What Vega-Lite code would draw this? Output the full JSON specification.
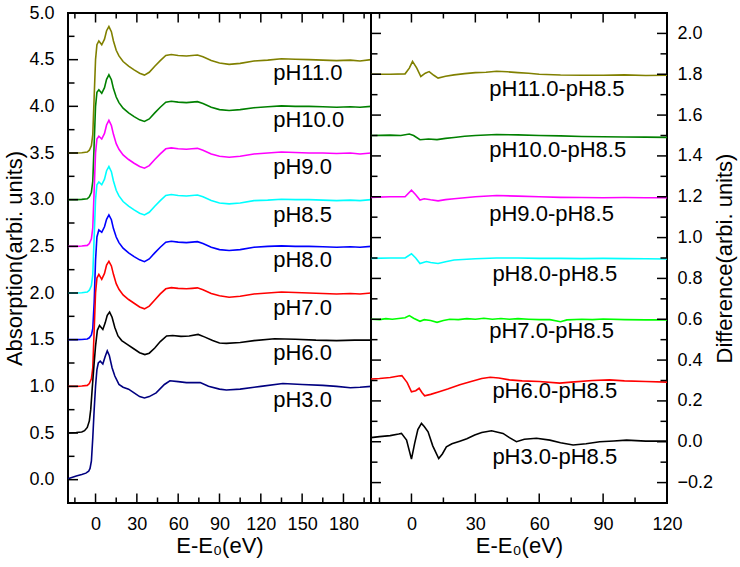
{
  "$schema": "https://vega.github.io/schema/vega-lite/v6.json",
  "padding": {"left": 2, "top": 3, "right": 3, "bottom": 5},
  "spacing": 0,
  "bounds": "flush",
  "datasets": {
    "spec": [
      {"s":"pH11.0","x":-20,"y":3.5},{"s":"pH11.0","x":-14,"y":3.5},{"s":"pH11.0","x":-10,"y":3.503},{"s":"pH11.0","x":-6,"y":3.51},{"s":"pH11.0","x":-4.5,"y":3.53},{"s":"pH11.0","x":-3,"y":3.58},{"s":"pH11.0","x":-2,"y":3.7},{"s":"pH11.0","x":-1,"y":4.1},{"s":"pH11.0","x":0,"y":4.5},{"s":"pH11.0","x":1,"y":4.66},{"s":"pH11.0","x":2.4,"y":4.7},{"s":"pH11.0","x":4.5,"y":4.66},{"s":"pH11.0","x":6.5,"y":4.72},{"s":"pH11.0","x":8,"y":4.81},{"s":"pH11.0","x":9.7,"y":4.855},{"s":"pH11.0","x":11.5,"y":4.8},{"s":"pH11.0","x":13,"y":4.7},{"s":"pH11.0","x":15,"y":4.6},{"s":"pH11.0","x":17,"y":4.54},{"s":"pH11.0","x":20,"y":4.48},{"s":"pH11.0","x":24,"y":4.43},{"s":"pH11.0","x":28,"y":4.39},{"s":"pH11.0","x":32,"y":4.355},{"s":"pH11.0","x":35.5,"y":4.335},{"s":"pH11.0","x":39,"y":4.365},{"s":"pH11.0","x":43,"y":4.43},{"s":"pH11.0","x":47,"y":4.49},{"s":"pH11.0","x":51,"y":4.545},{"s":"pH11.0","x":55,"y":4.555},{"s":"pH11.0","x":60,"y":4.545},{"s":"pH11.0","x":66,"y":4.54},{"s":"pH11.0","x":70,"y":4.545},{"s":"pH11.0","x":74,"y":4.55},{"s":"pH11.0","x":78,"y":4.53},{"s":"pH11.0","x":84,"y":4.49},{"s":"pH11.0","x":90,"y":4.465},{"s":"pH11.0","x":97,"y":4.45},{"s":"pH11.0","x":105,"y":4.46},{"s":"pH11.0","x":115,"y":4.485},{"s":"pH11.0","x":125,"y":4.495},{"s":"pH11.0","x":135,"y":4.51},{"s":"pH11.0","x":145,"y":4.505},{"s":"pH11.0","x":155,"y":4.5},{"s":"pH11.0","x":165,"y":4.495},{"s":"pH11.0","x":175,"y":4.49},{"s":"pH11.0","x":185,"y":4.495},{"s":"pH11.0","x":192,"y":4.485},{"s":"pH11.0","x":200,"y":4.5},

      {"s":"pH10.0","x":-20,"y":3.0},{"s":"pH10.0","x":-14,"y":3.0},{"s":"pH10.0","x":-10,"y":3.003},{"s":"pH10.0","x":-6,"y":3.01},{"s":"pH10.0","x":-4.5,"y":3.03},{"s":"pH10.0","x":-3,"y":3.08},{"s":"pH10.0","x":-2,"y":3.2},{"s":"pH10.0","x":-1,"y":3.6},{"s":"pH10.0","x":0,"y":4.0},{"s":"pH10.0","x":1,"y":4.15},{"s":"pH10.0","x":2.4,"y":4.177},{"s":"pH10.0","x":4.5,"y":4.14},{"s":"pH10.0","x":6.5,"y":4.2},{"s":"pH10.0","x":8,"y":4.29},{"s":"pH10.0","x":9.7,"y":4.338},{"s":"pH10.0","x":11.5,"y":4.285},{"s":"pH10.0","x":13,"y":4.19},{"s":"pH10.0","x":15,"y":4.1},{"s":"pH10.0","x":17,"y":4.04},{"s":"pH10.0","x":20,"y":3.98},{"s":"pH10.0","x":24,"y":3.93},{"s":"pH10.0","x":28,"y":3.89},{"s":"pH10.0","x":32,"y":3.855},{"s":"pH10.0","x":35.5,"y":3.838},{"s":"pH10.0","x":39,"y":3.865},{"s":"pH10.0","x":43,"y":3.93},{"s":"pH10.0","x":47,"y":3.99},{"s":"pH10.0","x":51,"y":4.045},{"s":"pH10.0","x":55,"y":4.055},{"s":"pH10.0","x":60,"y":4.045},{"s":"pH10.0","x":66,"y":4.04},{"s":"pH10.0","x":70,"y":4.045},{"s":"pH10.0","x":74,"y":4.05},{"s":"pH10.0","x":78,"y":4.03},{"s":"pH10.0","x":84,"y":3.99},{"s":"pH10.0","x":90,"y":3.965},{"s":"pH10.0","x":97,"y":3.955},{"s":"pH10.0","x":105,"y":3.965},{"s":"pH10.0","x":115,"y":3.985},{"s":"pH10.0","x":125,"y":3.995},{"s":"pH10.0","x":135,"y":4.005},{"s":"pH10.0","x":145,"y":4.0},{"s":"pH10.0","x":155,"y":4.0},{"s":"pH10.0","x":165,"y":3.995},{"s":"pH10.0","x":175,"y":3.99},{"s":"pH10.0","x":185,"y":3.995},{"s":"pH10.0","x":192,"y":3.99},{"s":"pH10.0","x":200,"y":4.0},

      {"s":"pH9.0","x":-20,"y":2.5},{"s":"pH9.0","x":-14,"y":2.5},{"s":"pH9.0","x":-10,"y":2.503},{"s":"pH9.0","x":-6,"y":2.51},{"s":"pH9.0","x":-4.5,"y":2.53},{"s":"pH9.0","x":-3,"y":2.58},{"s":"pH9.0","x":-2,"y":2.7},{"s":"pH9.0","x":-1,"y":3.1},{"s":"pH9.0","x":0,"y":3.5},{"s":"pH9.0","x":1,"y":3.65},{"s":"pH9.0","x":2.4,"y":3.68},{"s":"pH9.0","x":4.5,"y":3.65},{"s":"pH9.0","x":6.5,"y":3.71},{"s":"pH9.0","x":8,"y":3.8},{"s":"pH9.0","x":9.7,"y":3.85},{"s":"pH9.0","x":11.5,"y":3.795},{"s":"pH9.0","x":13,"y":3.7},{"s":"pH9.0","x":15,"y":3.6},{"s":"pH9.0","x":17,"y":3.54},{"s":"pH9.0","x":20,"y":3.48},{"s":"pH9.0","x":24,"y":3.43},{"s":"pH9.0","x":28,"y":3.39},{"s":"pH9.0","x":32,"y":3.355},{"s":"pH9.0","x":35.5,"y":3.337},{"s":"pH9.0","x":39,"y":3.365},{"s":"pH9.0","x":43,"y":3.43},{"s":"pH9.0","x":47,"y":3.49},{"s":"pH9.0","x":51,"y":3.545},{"s":"pH9.0","x":55,"y":3.555},{"s":"pH9.0","x":60,"y":3.545},{"s":"pH9.0","x":66,"y":3.54},{"s":"pH9.0","x":70,"y":3.545},{"s":"pH9.0","x":74,"y":3.55},{"s":"pH9.0","x":78,"y":3.53},{"s":"pH9.0","x":84,"y":3.49},{"s":"pH9.0","x":90,"y":3.465},{"s":"pH9.0","x":97,"y":3.455},{"s":"pH9.0","x":105,"y":3.465},{"s":"pH9.0","x":115,"y":3.49},{"s":"pH9.0","x":125,"y":3.5},{"s":"pH9.0","x":135,"y":3.51},{"s":"pH9.0","x":145,"y":3.505},{"s":"pH9.0","x":155,"y":3.5},{"s":"pH9.0","x":165,"y":3.5},{"s":"pH9.0","x":175,"y":3.495},{"s":"pH9.0","x":185,"y":3.5},{"s":"pH9.0","x":192,"y":3.49},{"s":"pH9.0","x":200,"y":3.5},

      {"s":"pH8.5","x":-20,"y":2.0},{"s":"pH8.5","x":-14,"y":2.0},{"s":"pH8.5","x":-10,"y":2.003},{"s":"pH8.5","x":-6,"y":2.01},{"s":"pH8.5","x":-4.5,"y":2.03},{"s":"pH8.5","x":-3,"y":2.08},{"s":"pH8.5","x":-2,"y":2.2},{"s":"pH8.5","x":-1,"y":2.6},{"s":"pH8.5","x":0,"y":3.0},{"s":"pH8.5","x":1,"y":3.16},{"s":"pH8.5","x":2.4,"y":3.19},{"s":"pH8.5","x":4.5,"y":3.16},{"s":"pH8.5","x":6.5,"y":3.22},{"s":"pH8.5","x":8,"y":3.31},{"s":"pH8.5","x":9.7,"y":3.355},{"s":"pH8.5","x":11.5,"y":3.3},{"s":"pH8.5","x":13,"y":3.2},{"s":"pH8.5","x":15,"y":3.1},{"s":"pH8.5","x":17,"y":3.04},{"s":"pH8.5","x":20,"y":2.98},{"s":"pH8.5","x":24,"y":2.93},{"s":"pH8.5","x":28,"y":2.89},{"s":"pH8.5","x":32,"y":2.855},{"s":"pH8.5","x":35.5,"y":2.836},{"s":"pH8.5","x":39,"y":2.865},{"s":"pH8.5","x":43,"y":2.93},{"s":"pH8.5","x":47,"y":2.99},{"s":"pH8.5","x":51,"y":3.045},{"s":"pH8.5","x":55,"y":3.055},{"s":"pH8.5","x":60,"y":3.045},{"s":"pH8.5","x":66,"y":3.04},{"s":"pH8.5","x":70,"y":3.045},{"s":"pH8.5","x":74,"y":3.05},{"s":"pH8.5","x":78,"y":3.03},{"s":"pH8.5","x":84,"y":2.99},{"s":"pH8.5","x":90,"y":2.965},{"s":"pH8.5","x":97,"y":2.955},{"s":"pH8.5","x":105,"y":2.965},{"s":"pH8.5","x":115,"y":2.99},{"s":"pH8.5","x":125,"y":2.995},{"s":"pH8.5","x":135,"y":3.005},{"s":"pH8.5","x":145,"y":3.0},{"s":"pH8.5","x":155,"y":3.0},{"s":"pH8.5","x":165,"y":2.995},{"s":"pH8.5","x":175,"y":2.99},{"s":"pH8.5","x":185,"y":2.995},{"s":"pH8.5","x":192,"y":2.99},{"s":"pH8.5","x":200,"y":3.0},

      {"s":"pH8.0","x":-20,"y":1.5},{"s":"pH8.0","x":-14,"y":1.5},{"s":"pH8.0","x":-10,"y":1.502},{"s":"pH8.0","x":-6,"y":1.507},{"s":"pH8.0","x":-4.5,"y":1.52},{"s":"pH8.0","x":-3,"y":1.55},{"s":"pH8.0","x":-2,"y":1.62},{"s":"pH8.0","x":-1,"y":1.9},{"s":"pH8.0","x":0,"y":2.35},{"s":"pH8.0","x":1,"y":2.6},{"s":"pH8.0","x":2.4,"y":2.675},{"s":"pH8.0","x":4.5,"y":2.65},{"s":"pH8.0","x":6.5,"y":2.71},{"s":"pH8.0","x":8,"y":2.79},{"s":"pH8.0","x":9.7,"y":2.836},{"s":"pH8.0","x":11.5,"y":2.785},{"s":"pH8.0","x":13,"y":2.69},{"s":"pH8.0","x":15,"y":2.6},{"s":"pH8.0","x":17,"y":2.54},{"s":"pH8.0","x":20,"y":2.48},{"s":"pH8.0","x":24,"y":2.43},{"s":"pH8.0","x":28,"y":2.39},{"s":"pH8.0","x":32,"y":2.355},{"s":"pH8.0","x":35.5,"y":2.336},{"s":"pH8.0","x":39,"y":2.365},{"s":"pH8.0","x":43,"y":2.43},{"s":"pH8.0","x":47,"y":2.49},{"s":"pH8.0","x":51,"y":2.545},{"s":"pH8.0","x":55,"y":2.555},{"s":"pH8.0","x":60,"y":2.545},{"s":"pH8.0","x":66,"y":2.54},{"s":"pH8.0","x":70,"y":2.545},{"s":"pH8.0","x":74,"y":2.55},{"s":"pH8.0","x":78,"y":2.53},{"s":"pH8.0","x":84,"y":2.49},{"s":"pH8.0","x":90,"y":2.465},{"s":"pH8.0","x":97,"y":2.455},{"s":"pH8.0","x":105,"y":2.465},{"s":"pH8.0","x":115,"y":2.49},{"s":"pH8.0","x":125,"y":2.5},{"s":"pH8.0","x":135,"y":2.505},{"s":"pH8.0","x":145,"y":2.5},{"s":"pH8.0","x":155,"y":2.5},{"s":"pH8.0","x":165,"y":2.495},{"s":"pH8.0","x":175,"y":2.49},{"s":"pH8.0","x":185,"y":2.495},{"s":"pH8.0","x":192,"y":2.49},{"s":"pH8.0","x":200,"y":2.5},

      {"s":"pH7.0","x":-20,"y":1.0},{"s":"pH7.0","x":-14,"y":1.0},{"s":"pH7.0","x":-10,"y":1.003},{"s":"pH7.0","x":-6,"y":1.01},{"s":"pH7.0","x":-4.5,"y":1.03},{"s":"pH7.0","x":-3,"y":1.08},{"s":"pH7.0","x":-2,"y":1.2},{"s":"pH7.0","x":-1,"y":1.6},{"s":"pH7.0","x":0,"y":2.0},{"s":"pH7.0","x":1,"y":2.16},{"s":"pH7.0","x":2.4,"y":2.2},{"s":"pH7.0","x":4.5,"y":2.146},{"s":"pH7.0","x":6.5,"y":2.21},{"s":"pH7.0","x":8,"y":2.3},{"s":"pH7.0","x":9.7,"y":2.34},{"s":"pH7.0","x":11.5,"y":2.29},{"s":"pH7.0","x":13,"y":2.2},{"s":"pH7.0","x":15,"y":2.1},{"s":"pH7.0","x":17,"y":2.04},{"s":"pH7.0","x":20,"y":1.98},{"s":"pH7.0","x":24,"y":1.93},{"s":"pH7.0","x":28,"y":1.89},{"s":"pH7.0","x":32,"y":1.85},{"s":"pH7.0","x":35.5,"y":1.83},{"s":"pH7.0","x":39,"y":1.86},{"s":"pH7.0","x":43,"y":1.925},{"s":"pH7.0","x":47,"y":1.99},{"s":"pH7.0","x":51,"y":2.045},{"s":"pH7.0","x":55,"y":2.057},{"s":"pH7.0","x":60,"y":2.05},{"s":"pH7.0","x":66,"y":2.045},{"s":"pH7.0","x":70,"y":2.05},{"s":"pH7.0","x":74,"y":2.055},{"s":"pH7.0","x":78,"y":2.035},{"s":"pH7.0","x":84,"y":1.995},{"s":"pH7.0","x":90,"y":1.97},{"s":"pH7.0","x":97,"y":1.955},{"s":"pH7.0","x":105,"y":1.965},{"s":"pH7.0","x":115,"y":1.99},{"s":"pH7.0","x":125,"y":2.0},{"s":"pH7.0","x":135,"y":2.01},{"s":"pH7.0","x":145,"y":2.005},{"s":"pH7.0","x":155,"y":2.0},{"s":"pH7.0","x":165,"y":1.995},{"s":"pH7.0","x":175,"y":1.99},{"s":"pH7.0","x":185,"y":1.995},{"s":"pH7.0","x":192,"y":1.99},{"s":"pH7.0","x":200,"y":2.0},

      {"s":"pH6.0","x":-20,"y":0.5},{"s":"pH6.0","x":-14,"y":0.505},{"s":"pH6.0","x":-10,"y":0.51},{"s":"pH6.0","x":-8,"y":0.525},{"s":"pH6.0","x":-6,"y":0.56},{"s":"pH6.0","x":-4.5,"y":0.63},{"s":"pH6.0","x":-3.5,"y":0.75},{"s":"pH6.0","x":-2.4,"y":0.98},{"s":"pH6.0","x":-1,"y":1.25},{"s":"pH6.0","x":0,"y":1.43},{"s":"pH6.0","x":1.3,"y":1.6},{"s":"pH6.0","x":2.9,"y":1.652},{"s":"pH6.0","x":5.3,"y":1.61},{"s":"pH6.0","x":7,"y":1.68},{"s":"pH6.0","x":8.5,"y":1.76},{"s":"pH6.0","x":10.2,"y":1.795},{"s":"pH6.0","x":12,"y":1.74},{"s":"pH6.0","x":14,"y":1.63},{"s":"pH6.0","x":16.3,"y":1.54},{"s":"pH6.0","x":19,"y":1.49},{"s":"pH6.0","x":23,"y":1.45},{"s":"pH6.0","x":28,"y":1.4},{"s":"pH6.0","x":32,"y":1.36},{"s":"pH6.0","x":35.8,"y":1.34},{"s":"pH6.0","x":39,"y":1.355},{"s":"pH6.0","x":43,"y":1.41},{"s":"pH6.0","x":47,"y":1.48},{"s":"pH6.0","x":51.6,"y":1.54},{"s":"pH6.0","x":56,"y":1.545},{"s":"pH6.0","x":62,"y":1.535},{"s":"pH6.0","x":68,"y":1.54},{"s":"pH6.0","x":74.5,"y":1.556},{"s":"pH6.0","x":79,"y":1.53},{"s":"pH6.0","x":85,"y":1.49},{"s":"pH6.0","x":90,"y":1.465},{"s":"pH6.0","x":95,"y":1.46},{"s":"pH6.0","x":105,"y":1.47},{"s":"pH6.0","x":115,"y":1.49},{"s":"pH6.0","x":130,"y":1.51},{"s":"pH6.0","x":145,"y":1.505},{"s":"pH6.0","x":160,"y":1.495},{"s":"pH6.0","x":175,"y":1.49},{"s":"pH6.0","x":188,"y":1.495},{"s":"pH6.0","x":200,"y":1.495},

      {"s":"pH3.0","x":-20,"y":0.01},{"s":"pH3.0","x":-14,"y":0.04},{"s":"pH3.0","x":-10,"y":0.055},{"s":"pH3.0","x":-7,"y":0.07},{"s":"pH3.0","x":-5,"y":0.09},{"s":"pH3.0","x":-4,"y":0.12},{"s":"pH3.0","x":-3,"y":0.2},{"s":"pH3.0","x":-2,"y":0.45},{"s":"pH3.0","x":-1,"y":0.75},{"s":"pH3.0","x":0,"y":1.0},{"s":"pH3.0","x":1,"y":1.18},{"s":"pH3.0","x":2,"y":1.25},{"s":"pH3.0","x":3.4,"y":1.27},{"s":"pH3.0","x":5.3,"y":1.24},{"s":"pH3.0","x":7,"y":1.32},{"s":"pH3.0","x":8.5,"y":1.38},{"s":"pH3.0","x":10,"y":1.33},{"s":"pH3.0","x":12,"y":1.2},{"s":"pH3.0","x":14,"y":1.11},{"s":"pH3.0","x":17,"y":1.02},{"s":"pH3.0","x":20,"y":0.99},{"s":"pH3.0","x":24,"y":0.97},{"s":"pH3.0","x":28,"y":0.93},{"s":"pH3.0","x":32,"y":0.89},{"s":"pH3.0","x":35.5,"y":0.875},{"s":"pH3.0","x":39,"y":0.89},{"s":"pH3.0","x":44,"y":0.93},{"s":"pH3.0","x":50,"y":1.02},{"s":"pH3.0","x":54,"y":1.06},{"s":"pH3.0","x":60,"y":1.05},{"s":"pH3.0","x":66,"y":1.04},{"s":"pH3.0","x":72,"y":1.04},{"s":"pH3.0","x":76,"y":1.04},{"s":"pH3.0","x":82,"y":1.0},{"s":"pH3.0","x":90,"y":0.97},{"s":"pH3.0","x":95,"y":0.96},{"s":"pH3.0","x":105,"y":0.97},{"s":"pH3.0","x":120,"y":1.0},{"s":"pH3.0","x":136,"y":1.03},{"s":"pH3.0","x":150,"y":1.02},{"s":"pH3.0","x":165,"y":1.01},{"s":"pH3.0","x":175,"y":1.0},{"s":"pH3.0","x":185,"y":0.985},{"s":"pH3.0","x":192,"y":0.99},{"s":"pH3.0","x":200,"y":1.0}
    ],
    "diff": [
      {"s":"pH11.0-pH8.5","x":-19,"y":1.8},{"s":"pH11.0-pH8.5","x":-10,"y":1.8},{"s":"pH11.0-pH8.5","x":-3,"y":1.802},{"s":"pH11.0-pH8.5","x":-1,"y":1.83},{"s":"pH11.0-pH8.5","x":0.5,"y":1.863},{"s":"pH11.0-pH8.5","x":2.5,"y":1.83},{"s":"pH11.0-pH8.5","x":4.4,"y":1.789},{"s":"pH11.0-pH8.5","x":6.5,"y":1.805},{"s":"pH11.0-pH8.5","x":8.3,"y":1.813},{"s":"pH11.0-pH8.5","x":10.5,"y":1.795},{"s":"pH11.0-pH8.5","x":12.5,"y":1.781},{"s":"pH11.0-pH8.5","x":16,"y":1.79},{"s":"pH11.0-pH8.5","x":20,"y":1.797},{"s":"pH11.0-pH8.5","x":25,"y":1.803},{"s":"pH11.0-pH8.5","x":30,"y":1.808},{"s":"pH11.0-pH8.5","x":35,"y":1.81},{"s":"pH11.0-pH8.5","x":40,"y":1.815},{"s":"pH11.0-pH8.5","x":45,"y":1.812},{"s":"pH11.0-pH8.5","x":50,"y":1.808},{"s":"pH11.0-pH8.5","x":55,"y":1.805},{"s":"pH11.0-pH8.5","x":60,"y":1.8},{"s":"pH11.0-pH8.5","x":70,"y":1.796},{"s":"pH11.0-pH8.5","x":80,"y":1.795},{"s":"pH11.0-pH8.5","x":90,"y":1.795},{"s":"pH11.0-pH8.5","x":100,"y":1.797},{"s":"pH11.0-pH8.5","x":110,"y":1.794},{"s":"pH11.0-pH8.5","x":120,"y":1.795},

      {"s":"pH10.0-pH8.5","x":-19,"y":1.5},{"s":"pH10.0-pH8.5","x":-10,"y":1.502},{"s":"pH10.0-pH8.5","x":-5,"y":1.5},{"s":"pH10.0-pH8.5","x":-1,"y":1.507},{"s":"pH10.0-pH8.5","x":1,"y":1.5},{"s":"pH10.0-pH8.5","x":4,"y":1.479},{"s":"pH10.0-pH8.5","x":8,"y":1.483},{"s":"pH10.0-pH8.5","x":12,"y":1.48},{"s":"pH10.0-pH8.5","x":16,"y":1.486},{"s":"pH10.0-pH8.5","x":20,"y":1.49},{"s":"pH10.0-pH8.5","x":25,"y":1.496},{"s":"pH10.0-pH8.5","x":30,"y":1.5},{"s":"pH10.0-pH8.5","x":40,"y":1.505},{"s":"pH10.0-pH8.5","x":50,"y":1.503},{"s":"pH10.0-pH8.5","x":60,"y":1.5},{"s":"pH10.0-pH8.5","x":70,"y":1.498},{"s":"pH10.0-pH8.5","x":80,"y":1.495},{"s":"pH10.0-pH8.5","x":90,"y":1.494},{"s":"pH10.0-pH8.5","x":100,"y":1.493},{"s":"pH10.0-pH8.5","x":110,"y":1.492},{"s":"pH10.0-pH8.5","x":120,"y":1.491},

      {"s":"pH9.0-pH8.5","x":-19,"y":1.197},{"s":"pH9.0-pH8.5","x":-10,"y":1.2},{"s":"pH9.0-pH8.5","x":-3,"y":1.2},{"s":"pH9.0-pH8.5","x":0,"y":1.232},{"s":"pH9.0-pH8.5","x":2,"y":1.21},{"s":"pH9.0-pH8.5","x":4,"y":1.184},{"s":"pH9.0-pH8.5","x":6,"y":1.19},{"s":"pH9.0-pH8.5","x":9,"y":1.185},{"s":"pH9.0-pH8.5","x":12.5,"y":1.18},{"s":"pH9.0-pH8.5","x":16,"y":1.186},{"s":"pH9.0-pH8.5","x":20,"y":1.19},{"s":"pH9.0-pH8.5","x":25,"y":1.195},{"s":"pH9.0-pH8.5","x":30,"y":1.2},{"s":"pH9.0-pH8.5","x":40,"y":1.206},{"s":"pH9.0-pH8.5","x":50,"y":1.203},{"s":"pH9.0-pH8.5","x":60,"y":1.2},{"s":"pH9.0-pH8.5","x":70,"y":1.197},{"s":"pH9.0-pH8.5","x":80,"y":1.196},{"s":"pH9.0-pH8.5","x":90,"y":1.195},{"s":"pH9.0-pH8.5","x":100,"y":1.196},{"s":"pH9.0-pH8.5","x":110,"y":1.195},{"s":"pH9.0-pH8.5","x":120,"y":1.195},

      {"s":"pH8.0-pH8.5","x":-19,"y":0.898},{"s":"pH8.0-pH8.5","x":-10,"y":0.9},{"s":"pH8.0-pH8.5","x":-3,"y":0.9},{"s":"pH8.0-pH8.5","x":0,"y":0.921},{"s":"pH8.0-pH8.5","x":2,"y":0.9},{"s":"pH8.0-pH8.5","x":4,"y":0.873},{"s":"pH8.0-pH8.5","x":7,"y":0.883},{"s":"pH8.0-pH8.5","x":9,"y":0.878},{"s":"pH8.0-pH8.5","x":12.5,"y":0.873},{"s":"pH8.0-pH8.5","x":16,"y":0.882},{"s":"pH8.0-pH8.5","x":20,"y":0.89},{"s":"pH8.0-pH8.5","x":30,"y":0.896},{"s":"pH8.0-pH8.5","x":40,"y":0.9},{"s":"pH8.0-pH8.5","x":50,"y":0.9},{"s":"pH8.0-pH8.5","x":60,"y":0.898},{"s":"pH8.0-pH8.5","x":70,"y":0.898},{"s":"pH8.0-pH8.5","x":80,"y":0.897},{"s":"pH8.0-pH8.5","x":90,"y":0.898},{"s":"pH8.0-pH8.5","x":100,"y":0.897},{"s":"pH8.0-pH8.5","x":110,"y":0.896},{"s":"pH8.0-pH8.5","x":120,"y":0.895},

      {"s":"pH7.0-pH8.5","x":-19,"y":0.6},{"s":"pH7.0-pH8.5","x":-15,"y":0.598},{"s":"pH7.0-pH8.5","x":-12,"y":0.603},{"s":"pH7.0-pH8.5","x":-9,"y":0.6},{"s":"pH7.0-pH8.5","x":-6,"y":0.604},{"s":"pH7.0-pH8.5","x":-3,"y":0.607},{"s":"pH7.0-pH8.5","x":-1,"y":0.618},{"s":"pH7.0-pH8.5","x":1,"y":0.605},{"s":"pH7.0-pH8.5","x":4,"y":0.59},{"s":"pH7.0-pH8.5","x":6,"y":0.598},{"s":"pH7.0-pH8.5","x":9,"y":0.594},{"s":"pH7.0-pH8.5","x":12,"y":0.585},{"s":"pH7.0-pH8.5","x":15,"y":0.594},{"s":"pH7.0-pH8.5","x":18,"y":0.6},{"s":"pH7.0-pH8.5","x":22,"y":0.598},{"s":"pH7.0-pH8.5","x":26,"y":0.603},{"s":"pH7.0-pH8.5","x":30,"y":0.6},{"s":"pH7.0-pH8.5","x":34,"y":0.605},{"s":"pH7.0-pH8.5","x":38,"y":0.6},{"s":"pH7.0-pH8.5","x":42,"y":0.604},{"s":"pH7.0-pH8.5","x":46,"y":0.6},{"s":"pH7.0-pH8.5","x":50,"y":0.603},{"s":"pH7.0-pH8.5","x":55,"y":0.6},{"s":"pH7.0-pH8.5","x":60,"y":0.598},{"s":"pH7.0-pH8.5","x":65,"y":0.598},{"s":"pH7.0-pH8.5","x":70,"y":0.588},{"s":"pH7.0-pH8.5","x":73,"y":0.597},{"s":"pH7.0-pH8.5","x":80,"y":0.6},{"s":"pH7.0-pH8.5","x":85,"y":0.598},{"s":"pH7.0-pH8.5","x":90,"y":0.601},{"s":"pH7.0-pH8.5","x":100,"y":0.598},{"s":"pH7.0-pH8.5","x":110,"y":0.597},{"s":"pH7.0-pH8.5","x":120,"y":0.597},

      {"s":"pH6.0-pH8.5","x":-19,"y":0.307},{"s":"pH6.0-pH8.5","x":-15,"y":0.31},{"s":"pH6.0-pH8.5","x":-10,"y":0.315},{"s":"pH6.0-pH8.5","x":-6,"y":0.322},{"s":"pH6.0-pH8.5","x":-4.5,"y":0.324},{"s":"pH6.0-pH8.5","x":-2,"y":0.29},{"s":"pH6.0-pH8.5","x":0,"y":0.245},{"s":"pH6.0-pH8.5","x":2,"y":0.25},{"s":"pH6.0-pH8.5","x":3.6,"y":0.262},{"s":"pH6.0-pH8.5","x":5,"y":0.24},{"s":"pH6.0-pH8.5","x":6.2,"y":0.225},{"s":"pH6.0-pH8.5","x":9,"y":0.232},{"s":"pH6.0-pH8.5","x":13,"y":0.245},{"s":"pH6.0-pH8.5","x":17,"y":0.258},{"s":"pH6.0-pH8.5","x":22.7,"y":0.279},{"s":"pH6.0-pH8.5","x":28,"y":0.295},{"s":"pH6.0-pH8.5","x":33,"y":0.31},{"s":"pH6.0-pH8.5","x":37,"y":0.316},{"s":"pH6.0-pH8.5","x":41,"y":0.312},{"s":"pH6.0-pH8.5","x":46,"y":0.303},{"s":"pH6.0-pH8.5","x":52,"y":0.298},{"s":"pH6.0-pH8.5","x":60,"y":0.295},{"s":"pH6.0-pH8.5","x":69.6,"y":0.287},{"s":"pH6.0-pH8.5","x":75,"y":0.292},{"s":"pH6.0-pH8.5","x":85,"y":0.3},{"s":"pH6.0-pH8.5","x":93,"y":0.303},{"s":"pH6.0-pH8.5","x":100,"y":0.298},{"s":"pH6.0-pH8.5","x":110,"y":0.295},{"s":"pH6.0-pH8.5","x":120,"y":0.292},

      {"s":"pH3.0-pH8.5","x":-19,"y":0.02},{"s":"pH3.0-pH8.5","x":-15,"y":0.025},{"s":"pH3.0-pH8.5","x":-10,"y":0.03},{"s":"pH3.0-pH8.5","x":-6,"y":0.038},{"s":"pH3.0-pH8.5","x":-4.7,"y":0.041},{"s":"pH3.0-pH8.5","x":-2.3,"y":0.008},{"s":"pH3.0-pH8.5","x":0,"y":-0.085},{"s":"pH3.0-pH8.5","x":1.5,"y":-0.008},{"s":"pH3.0-pH8.5","x":3,"y":0.06},{"s":"pH3.0-pH8.5","x":4.7,"y":0.09},{"s":"pH3.0-pH8.5","x":6,"y":0.075},{"s":"pH3.0-pH8.5","x":7.8,"y":0.049},{"s":"pH3.0-pH8.5","x":10,"y":-0.02},{"s":"pH3.0-pH8.5","x":12.8,"y":-0.082},{"s":"pH3.0-pH8.5","x":14.5,"y":-0.06},{"s":"pH3.0-pH8.5","x":16.4,"y":-0.025},{"s":"pH3.0-pH8.5","x":19,"y":-0.01},{"s":"pH3.0-pH8.5","x":22.7,"y":0.003},{"s":"pH3.0-pH8.5","x":26,"y":0.015},{"s":"pH3.0-pH8.5","x":29.7,"y":0.033},{"s":"pH3.0-pH8.5","x":33,"y":0.045},{"s":"pH3.0-pH8.5","x":37.6,"y":0.054},{"s":"pH3.0-pH8.5","x":43,"y":0.041},{"s":"pH3.0-pH8.5","x":46,"y":0.02},{"s":"pH3.0-pH8.5","x":49.3,"y":0.0},{"s":"pH3.0-pH8.5","x":53,"y":0.012},{"s":"pH3.0-pH8.5","x":58.7,"y":0.017},{"s":"pH3.0-pH8.5","x":65,"y":0.008},{"s":"pH3.0-pH8.5","x":70,"y":-0.005},{"s":"pH3.0-pH8.5","x":75.9,"y":-0.016},{"s":"pH3.0-pH8.5","x":82,"y":-0.01},{"s":"pH3.0-pH8.5","x":88.4,"y":0.0},{"s":"pH3.0-pH8.5","x":95,"y":0.004},{"s":"pH3.0-pH8.5","x":101,"y":0.008},{"s":"pH3.0-pH8.5","x":110,"y":0.003},{"s":"pH3.0-pH8.5","x":120,"y":0.003}
    ],
    "lab1": [
      {"t":"pH11.0","x":129,"y":4.355},{"t":"pH10.0","x":129,"y":3.857},{"t":"pH9.0","x":129,"y":3.355},{"t":"pH8.5","x":129,"y":2.84},{"t":"pH8.0","x":129,"y":2.356},{"t":"pH7.0","x":129,"y":1.837},{"t":"pH6.0","x":129,"y":1.357},{"t":"pH3.0","x":129,"y":0.856}
    ],
    "lab2": [
      {"t":"pH11.0-pH8.5","x":36.5,"y":1.728},{"t":"pH10.0-pH8.5","x":36.5,"y":1.43},{"t":"pH9.0-pH8.5","x":36.5,"y":1.117},{"t":"pH8.0-pH8.5","x":38,"y":0.822},{"t":"pH7.0-pH8.5","x":36.5,"y":0.544},{"t":"pH6.0-pH8.5","x":38,"y":0.25},{"t":"pH3.0-pH8.5","x":38,"y":-0.073}
    ],
    "lxMaj": [{"v":0},{"v":30},{"v":60},{"v":90},{"v":120},{"v":150},{"v":180}],
    "lxMin": [{"v":-15},{"v":15},{"v":45},{"v":75},{"v":105},{"v":135},{"v":165},{"v":195}],
    "lyMaj": [{"v":0},{"v":0.5},{"v":1},{"v":1.5},{"v":2},{"v":2.5},{"v":3},{"v":3.5},{"v":4},{"v":4.5}],
    "lyMin": [{"v":0.25},{"v":0.75},{"v":1.25},{"v":1.75},{"v":2.25},{"v":2.75},{"v":3.25},{"v":3.75},{"v":4.25},{"v":4.75}],
    "rxMaj": [{"v":0},{"v":30},{"v":60},{"v":90}],
    "rxMin": [{"v":-15},{"v":15},{"v":45},{"v":75},{"v":105}],
    "ryMaj": [{"v":-0.2},{"v":0},{"v":0.2},{"v":0.4},{"v":0.6},{"v":0.8},{"v":1},{"v":1.2},{"v":1.4},{"v":1.6},{"v":1.8},{"v":2}],
    "ryMin": [{"v":-0.1},{"v":0.1},{"v":0.3},{"v":0.5},{"v":0.7},{"v":0.9},{"v":1.1},{"v":1.3},{"v":1.5},{"v":1.7},{"v":1.9}]
  },
  "hconcat": [
    {
      "width": 303,
      "height": 490,
      "layer": [
        {
          "data": {"name": "spec"},
          "mark": {"type": "line", "strokeWidth": 1.6},
          "encoding": {
            "x": {"field": "x", "type": "quantitative", "scale": {"domain": [-20, 200], "nice": false, "zero": false},
              "axis": {"orient": "bottom", "values": [0, 30, 60, 90, 120, 150, 180], "ticks": false, "labelPadding": 12, "labelFlush": false, "title": "E-E₀(eV)", "titlePadding": 2}},
            "y": {"field": "y", "type": "quantitative", "scale": {"domain": [-0.25, 5], "nice": false, "zero": false},
              "axis": {"orient": "left", "values": [0, 0.5, 1, 1.5, 2, 2.5, 3, 3.5, 4, 4.5, 5], "format": ".1f", "ticks": false, "labelPadding": 14, "title": "Absorption(arbi. units)", "titlePadding": 2}},
            "color": {"field": "s", "type": "nominal", "legend": null,
              "scale": {"domain": ["pH11.0", "pH10.0", "pH9.0", "pH8.5", "pH8.0", "pH7.0", "pH6.0", "pH3.0"],
                        "range": ["#808000", "#008000", "#ff00ff", "#00ffff", "#0000ff", "#ff0000", "#000000", "#000080"]}}
          }
        },
        {
          "data": {"name": "lab1"},
          "mark": {"type": "text", "align": "left", "baseline": "middle", "fontSize": 22, "font": "Liberation Sans", "color": "black"},
          "encoding": {
            "x": {"field": "x", "type": "quantitative"},
            "y": {"field": "y", "type": "quantitative"},
            "text": {"field": "t"}
          }
        },
        {
          "data": {"name": "lxMaj"},
          "mark": {"type": "tick", "orient": "vertical", "size": 19, "thickness": 1.5, "color": "black", "opacity": 1, "clip": true},
          "encoding": {"x": {"field": "v", "type": "quantitative"}, "y": {"datum": -0.25, "type": "quantitative"}}
        },
        {
          "data": {"name": "lxMaj"},
          "mark": {"type": "tick", "orient": "vertical", "size": 19, "thickness": 1.5, "color": "black", "opacity": 1, "clip": true},
          "encoding": {"x": {"field": "v", "type": "quantitative"}, "y": {"datum": 5, "type": "quantitative"}}
        },
        {
          "data": {"name": "lxMin"},
          "mark": {"type": "tick", "orient": "vertical", "size": 11, "thickness": 1.5, "color": "black", "opacity": 1, "clip": true},
          "encoding": {"x": {"field": "v", "type": "quantitative"}, "y": {"datum": -0.25, "type": "quantitative"}}
        },
        {
          "data": {"name": "lxMin"},
          "mark": {"type": "tick", "orient": "vertical", "size": 11, "thickness": 1.5, "color": "black", "opacity": 1, "clip": true},
          "encoding": {"x": {"field": "v", "type": "quantitative"}, "y": {"datum": 5, "type": "quantitative"}}
        },
        {
          "data": {"name": "lyMaj"},
          "mark": {"type": "tick", "orient": "horizontal", "size": 20, "thickness": 1.5, "color": "black", "opacity": 1, "clip": true},
          "encoding": {"y": {"field": "v", "type": "quantitative"}, "x": {"datum": -20, "type": "quantitative"}}
        },
        {
          "data": {"name": "lyMin"},
          "mark": {"type": "tick", "orient": "horizontal", "size": 13, "thickness": 1.5, "color": "black", "opacity": 1, "clip": true},
          "encoding": {"y": {"field": "v", "type": "quantitative"}, "x": {"datum": -20, "type": "quantitative"}}
        }
      ]
    },
    {
      "width": 296,
      "height": 490,
      "layer": [
        {
          "data": {"name": "diff"},
          "mark": {"type": "line", "strokeWidth": 1.6},
          "encoding": {
            "x": {"field": "x", "type": "quantitative", "scale": {"domain": [-19, 120], "nice": false, "zero": false},
              "axis": {"orient": "bottom", "values": [0, 30, 60, 90, 120], "ticks": false, "labelPadding": 12, "labelFlush": false, "title": "E-E₀(eV)", "titlePadding": 2}},
            "y": {"field": "y", "type": "quantitative", "scale": {"domain": [-0.3, 2.1], "nice": false, "zero": false},
              "axis": {"orient": "right", "values": [-0.2, 0, 0.2, 0.4, 0.6, 0.8, 1, 1.2, 1.4, 1.6, 1.8, 2], "format": ".1f", "ticks": false, "labelPadding": 10, "title": "Difference(arbi. units)", "titleAngle": -90, "titleBaseline": "top", "titlePadding": 2}},
            "color": {"field": "s", "type": "nominal", "legend": null,
              "scale": {"domain": ["pH11.0-pH8.5", "pH10.0-pH8.5", "pH9.0-pH8.5", "pH8.0-pH8.5", "pH7.0-pH8.5", "pH6.0-pH8.5", "pH3.0-pH8.5"],
                        "range": ["#808000", "#008000", "#ff00ff", "#00ffff", "#00ff00", "#ff0000", "#000000"]}}
          }
        },
        {
          "data": {"name": "lab2"},
          "mark": {"type": "text", "align": "left", "baseline": "middle", "fontSize": 22, "font": "Liberation Sans", "color": "black"},
          "encoding": {
            "x": {"field": "x", "type": "quantitative"},
            "y": {"field": "y", "type": "quantitative"},
            "text": {"field": "t"}
          }
        },
        {
          "data": {"name": "rxMaj"},
          "mark": {"type": "tick", "orient": "vertical", "size": 19, "thickness": 1.5, "color": "black", "opacity": 1, "clip": true},
          "encoding": {"x": {"field": "v", "type": "quantitative"}, "y": {"datum": -0.3, "type": "quantitative"}}
        },
        {
          "data": {"name": "rxMaj"},
          "mark": {"type": "tick", "orient": "vertical", "size": 19, "thickness": 1.5, "color": "black", "opacity": 1, "clip": true},
          "encoding": {"x": {"field": "v", "type": "quantitative"}, "y": {"datum": 2.1, "type": "quantitative"}}
        },
        {
          "data": {"name": "rxMin"},
          "mark": {"type": "tick", "orient": "vertical", "size": 11, "thickness": 1.5, "color": "black", "opacity": 1, "clip": true},
          "encoding": {"x": {"field": "v", "type": "quantitative"}, "y": {"datum": -0.3, "type": "quantitative"}}
        },
        {
          "data": {"name": "rxMin"},
          "mark": {"type": "tick", "orient": "vertical", "size": 11, "thickness": 1.5, "color": "black", "opacity": 1, "clip": true},
          "encoding": {"x": {"field": "v", "type": "quantitative"}, "y": {"datum": 2.1, "type": "quantitative"}}
        },
        {
          "data": {"name": "ryMaj"},
          "mark": {"type": "tick", "orient": "horizontal", "size": 20, "thickness": 1.5, "color": "black", "opacity": 1, "clip": true},
          "encoding": {"y": {"field": "v", "type": "quantitative"}, "x": {"datum": 120, "type": "quantitative"}}
        },
        {
          "data": {"name": "ryMin"},
          "mark": {"type": "tick", "orient": "horizontal", "size": 13, "thickness": 1.5, "color": "black", "opacity": 1, "clip": true},
          "encoding": {"y": {"field": "v", "type": "quantitative"}, "x": {"datum": 120, "type": "quantitative"}}
        },
        {
          "data": {"name": "ryMaj"},
          "mark": {"type": "tick", "orient": "horizontal", "size": 20, "thickness": 1.5, "color": "black", "opacity": 1, "clip": true},
          "encoding": {"y": {"field": "v", "type": "quantitative"}, "x": {"datum": -19, "type": "quantitative"}}
        },
        {
          "data": {"name": "ryMin"},
          "mark": {"type": "tick", "orient": "horizontal", "size": 13, "thickness": 1.5, "color": "black", "opacity": 1, "clip": true},
          "encoding": {"y": {"field": "v", "type": "quantitative"}, "x": {"datum": -19, "type": "quantitative"}}
        }
      ]
    }
  ],
  "resolve": {"scale": {"color": "independent"}},
  "config": {
    "font": "Liberation Sans",
    "view": {"stroke": "black", "strokeWidth": 2},
    "concat": {"spacing": 0},
    "axis": {
      "labelFont": "Liberation Sans", "labelFontSize": 18, "labelColor": "black",
      "titleFont": "Liberation Sans", "titleFontSize": 22, "titleFontWeight": "normal", "titleColor": "black",
      "grid": false, "domain": false
    }
  }
}
